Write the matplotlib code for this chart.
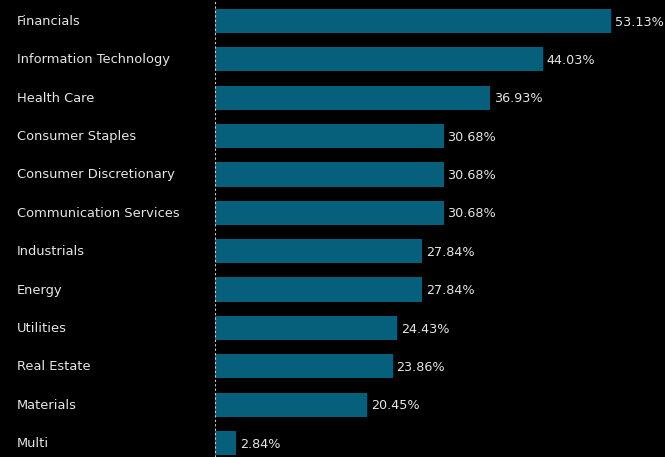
import matplotlib
matplotlib.use("Agg")
import matplotlib.pyplot as plt

categories = ["Financials", "Information Technology", "Health Care", "Consumer Staples",
              "Consumer Discretionary", "Communication Services", "Industrials", "Energy",
              "Utilities", "Real Estate", "Materials", "Multi"]
values = [53.13, 44.03, 36.93, 30.68, 30.68, 30.68, 27.84, 27.84, 24.43, 23.86, 20.45, 2.84]

bar_color = "#065f7b"
text_color = "#e6e6e6"

fig = plt.figure(figsize=(6.65, 4.57), dpi=100, facecolor="black")
ax = fig.add_axes([215 / 665, 0, 450 / 665, 1], facecolor="black")

pos = list(range(len(categories)))
ax.barh(pos, values, height=0.63, color=bar_color)
ax.set_xlim(0, 60.4)
ax.set_ylim(11.365, -0.547)

for p, v in zip(pos, values):
    ax.text(v + 0.5, p + 0.03, "%.2f%%" % v, color=text_color, fontsize=9.2, va="center", ha="left")

for p, c in zip(pos, categories):
    fig.text(17 / 665, 1 - (21.5 + p * 38.36) / 457, c, color=text_color, fontsize=9.4,
             va="center", ha="left")

ax.axvline(0, color="#cccccc", linestyle=(0, (2, 2)), linewidth=0.8)
for s in ax.spines.values():
    s.set_visible(False)
ax.set_xticks([])
ax.set_yticks([])

fig.savefig("out.png", facecolor="black")
